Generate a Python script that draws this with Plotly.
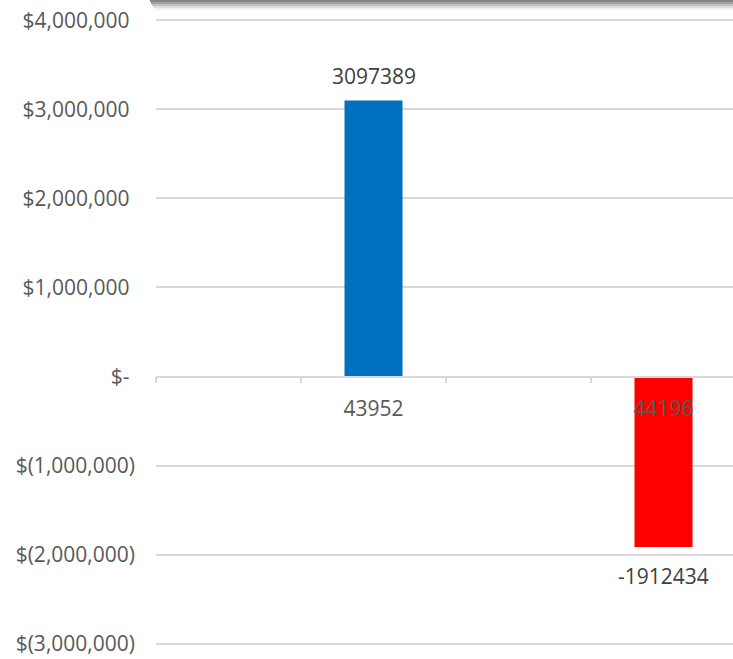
import plotly.graph_objects as go

# --- data ---
categories = [" ", "43952", "  ", "44196"]
values = [None, 3097389, None, -1912434]
y_ticks = [4000000, 3000000, 2000000, 1000000, 0, -1000000, -2000000, -3000000]


def money(v):
    if v == 0:
        return "$-\u00a0"
    if v > 0:
        return "${:,.0f}\u00a0".format(v)
    return "$({:,.0f})".format(-v)


y_ticktext = [money(v) for v in y_ticks]

bar_colors = ["#0070C0" if (v is not None and v >= 0) else "#FF0000" for v in values]

W, H = 733, 659
L, R, T, B = 156, 0, 17, 12
plot_w = W - L - R
plot_h = H - T - B
cat_px = 145.0
x_end = -0.5 + plot_w / cat_px
y_pad = 35400
y_min, y_max = -3000000 - y_pad, 4000000 + y_pad

FONT = "Open Sans"

fig = go.Figure()
fig.add_trace(go.Bar(
    x=categories,
    y=values,
    marker=dict(color=bar_colors, line=dict(width=0)),
    width=0.4,
    hoverinfo="skip",
))

annotations = []
for i, v in enumerate(values):
    if v is None:
        continue
    annotations.append(dict(
        x=i, y=v, xref="x", yref="y",
        text=str(v), showarrow=False,
        yshift=25 if v >= 0 else -29,
        font=dict(family=FONT, size=21, color="#404040"),
    ))

# shadow band at top of the picture (edge of a box above the chart)
def px_to_paper_x(px):
    return (px - L) / plot_w

def px_to_paper_y(py):
    return 1 + (T - py) / plot_h

shadow_rows = [(0, 2, "#858585"), (2, 4, "#a0a0a0"), (4, 6, "#c0c0c0"),
               (6, 8, "#dedede"), (8, 10, "#f2f2f2")]
shapes = []
for y0, y1, col in shadow_rows:
    shapes.append(dict(
        type="rect", xref="paper", yref="paper",
        x0=px_to_paper_x(150 + (y0 / 2)), x1=px_to_paper_x(740),
        y0=px_to_paper_y(y1), y1=px_to_paper_y(y0),
        fillcolor=col, line=dict(width=0), layer="above",
    ))

fig.update_layout(
    width=W, height=H,
    margin=dict(l=L, r=R, t=T, b=B, pad=0),
    paper_bgcolor="white",
    plot_bgcolor="white",
    showlegend=False,
    bargap=0.6,
    font=dict(family=FONT, size=21, color="#595959"),
    annotations=annotations,
    shapes=shapes,
    xaxis=dict(
        type="category",
        categoryorder="array",
        categoryarray=categories,
        range=[-0.5, x_end],
        anchor="free",
        position=(0 - y_min) / (y_max - y_min),
        showline=True,
        linecolor="#d9d9d9",
        linewidth=1.5,
        ticks="outside",
        ticklen=6,
        tickwidth=1.5,
        tickcolor="#d9d9d9",
        tickson="boundaries",
        showgrid=False,
        ticklabelstandoff=14,
        tickfont=dict(family=FONT, size=21, color="#595959"),
        layer="above traces",
        fixedrange=True,
    ),
    yaxis=dict(
        range=[y_min, y_max],
        tickvals=y_ticks,
        ticktext=y_ticktext,
        showgrid=True,
        gridcolor="#d9d9d9",
        gridwidth=1.5,
        zeroline=False,
        showline=False,
        ticks="",
        ticklabelstandoff=20,
        tickfont=dict(family=FONT, size=21, color="#595959"),
        fixedrange=True,
    ),
)

fig.write_html(
    "out.html",
    config={"displayModeBar": False},
    post_script="document.body.style.margin='0';document.body.style.overflow='hidden';",
)
